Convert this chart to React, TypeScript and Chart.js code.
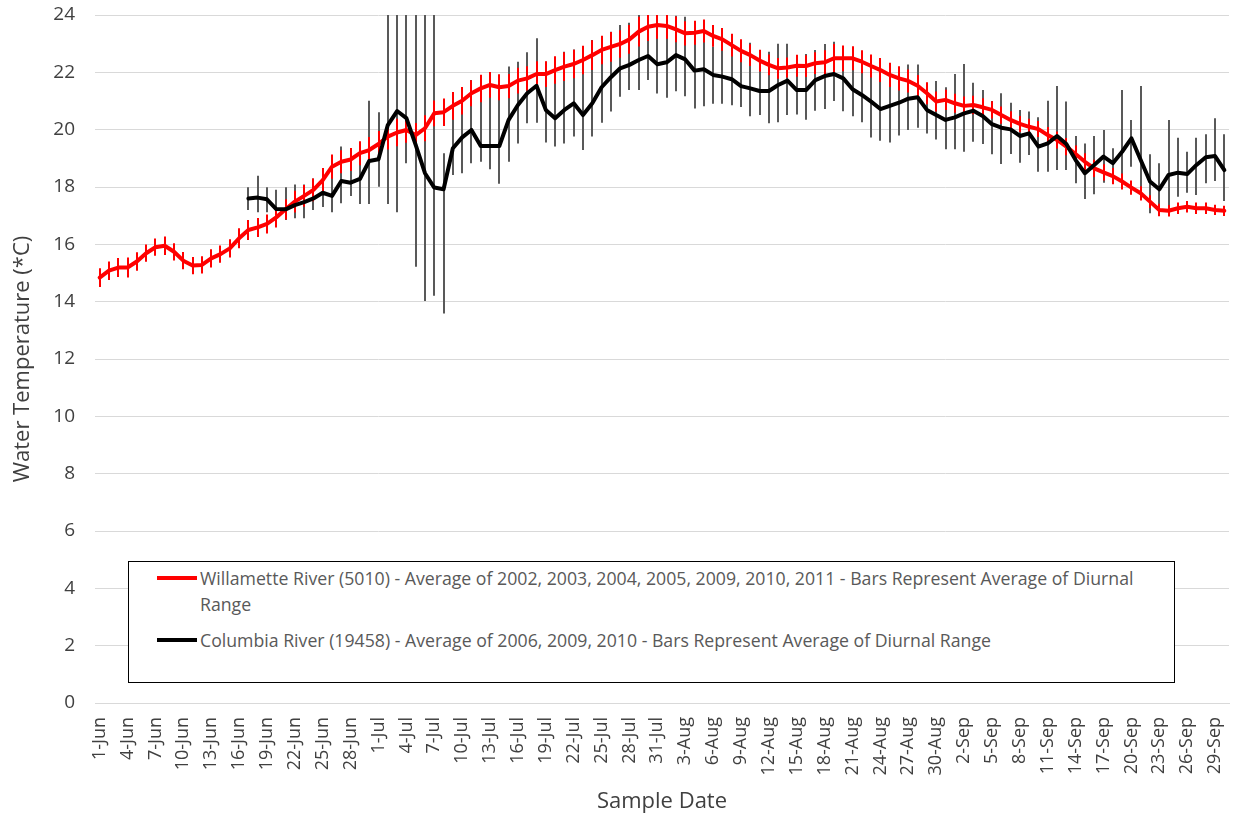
import React, { useEffect, useRef } from "react";
import { Chart, registerables } from "chart.js";

Chart.register(...registerables);

// ---------- categories ----------
const MONTHS: [string, number][] = [
  ["Jun", 30],
  ["Jul", 31],
  ["Aug", 31],
  ["Sep", 30],
];
const dateLabels: string[] = [];
for (const [m, n] of MONTHS) for (let d = 1; d <= n; d++) dateLabels.push(`${d}-${m}`);

// ---------- Willamette River (red) ----------
const willametteAvg: number[] = [
  14.84, 15.08, 15.19, 15.19, 15.40, 15.69, 15.90, 15.95, 15.74, 15.43,
  15.26, 15.28, 15.51, 15.66, 15.86, 16.21, 16.50, 16.59, 16.71, 16.94,
  17.22, 17.49, 17.69, 17.90, 18.24, 18.71, 18.88, 18.96, 19.18, 19.29,
  19.50, 19.76, 19.90, 19.99, 19.81, 20.05, 20.57, 20.61, 20.83, 21.01,
  21.27, 21.44, 21.56, 21.48, 21.52, 21.71, 21.79, 21.94, 21.94, 22.08,
  22.20, 22.29, 22.43, 22.60, 22.78, 22.89, 22.99, 23.15, 23.42, 23.59,
  23.65, 23.62, 23.50, 23.36, 23.38, 23.44, 23.27, 23.15, 22.95, 22.75,
  22.60, 22.41, 22.26, 22.14, 22.17, 22.23, 22.22, 22.32, 22.35, 22.49,
  22.49, 22.49, 22.37, 22.22, 22.08, 21.91, 21.79, 21.70, 21.53, 21.27,
  20.98, 21.04, 20.92, 20.83, 20.86, 20.78, 20.69, 20.51, 20.34, 20.20,
  20.10, 20.02, 19.81, 19.64, 19.41, 19.15, 18.88, 18.65, 18.51, 18.38,
  18.19, 17.98, 17.78, 17.49, 17.20, 17.17, 17.26, 17.31, 17.26, 17.26,
  17.20, 17.17,
];
// half of the average diurnal range
const willametteHalfRange: number[] = [
  0.33, 0.32, 0.33, 0.35, 0.32, 0.30, 0.30, 0.32, 0.30, 0.30,
  0.30, 0.30, 0.32, 0.30, 0.32, 0.35, 0.35, 0.33, 0.33, 0.35,
  0.35, 0.38, 0.38, 0.40, 0.42, 0.42, 0.40, 0.40, 0.42, 0.45,
  0.45, 0.45, 0.48, 0.45, 0.42, 0.45, 0.45, 0.48, 0.48, 0.48,
  0.45, 0.48, 0.45, 0.45, 0.42, 0.45, 0.42, 0.45, 0.45, 0.48,
  0.50, 0.50, 0.50, 0.52, 0.50, 0.52, 0.48, 0.50, 0.52, 0.50,
  0.48, 0.45, 0.45, 0.42, 0.42, 0.40, 0.38, 0.40, 0.40, 0.40,
  0.38, 0.38, 0.36, 0.36, 0.35, 0.38, 0.38, 0.38, 0.42, 0.50,
  0.45, 0.42, 0.40, 0.40, 0.42, 0.42, 0.42, 0.40, 0.38, 0.38,
  0.35, 0.35, 0.33, 0.33, 0.32, 0.32, 0.30, 0.30, 0.30, 0.28,
  0.28, 0.28, 0.28, 0.30, 0.30, 0.30, 0.30, 0.30, 0.28, 0.28,
  0.28, 0.25, 0.25, 0.22, 0.22, 0.20, 0.20, 0.20, 0.20, 0.20,
  0.18, 0.18,
];

// ---------- Columbia River (black) ----------
const N = null;
const columbiaAvg: (number | null)[] = [
  N, N, N, N, N, N, N, N, N, N,
  N, N, N, N, N, N, 17.60, 17.63, 17.57, 17.23,
  17.22, 17.37, 17.47, 17.60, 17.80, 17.69, 18.21, 18.15, 18.28, 18.91,
  18.97, 20.16, 20.65, 20.40, 19.47, 18.48, 17.98, 17.92, 19.35, 19.73,
  19.99, 19.43, 19.43, 19.43, 20.34, 20.86, 21.27, 21.53, 20.69, 20.40,
  20.69, 20.92, 20.51, 20.92, 21.48, 21.83, 22.14, 22.26, 22.43, 22.57,
  22.28, 22.35, 22.60, 22.45, 22.06, 22.11, 21.91, 21.85, 21.76, 21.52,
  21.44, 21.35, 21.35, 21.56, 21.71, 21.38, 21.38, 21.73, 21.87, 21.94,
  21.79, 21.41, 21.21, 20.98, 20.72, 20.83, 20.94, 21.08, 21.13, 20.69,
  20.51, 20.34, 20.43, 20.57, 20.66, 20.48, 20.19, 20.07, 20.01, 19.78,
  19.87, 19.41, 19.52, 19.78, 19.50, 18.94, 18.48, 18.77, 19.06, 18.83,
  19.23, 19.70, 18.94, 18.19, 17.92, 18.42, 18.50, 18.45, 18.77, 19.04,
  19.08, 18.59,
];
const columbiaLow: (number | null)[] = [
  N, N, N, N, N, N, N, N, N, N,
  N, N, N, N, N, N, 17.20, 17.12, 17.12, 16.90,
  16.85, 16.91, 16.91, 17.20, 17.30, 17.12, 17.43, 17.69, 17.41, 17.41,
  18.01, 17.41, 17.12, 18.83, 15.22, 14.02, 14.21, 13.59, 18.42, 18.48,
  18.83, 18.88, 18.62, 18.11, 18.88, 19.52, 20.22, 20.24, 19.55, 19.41,
  19.52, 19.76, 19.29, 19.76, 20.24, 20.63, 21.15, 21.38, 21.38, 21.73,
  21.26, 21.11, 21.34, 21.17, 20.74, 20.82, 20.90, 20.90, 20.85, 20.79,
  20.47, 20.51, 20.22, 20.26, 20.51, 20.53, 20.35, 20.66, 20.72, 21.00,
  20.64, 20.47, 20.26, 19.73, 19.61, 19.55, 19.80, 19.99, 20.07, 19.87,
  19.66, 19.32, 19.32, 19.23, 19.58, 19.50, 19.14, 18.80, 19.15, 18.85,
  19.12, 18.53, 18.53, 18.59, 18.59, 18.13, 17.58, 17.75, 18.15, 18.24,
  18.07, 18.71, 17.66, 17.08, 16.99, 17.02, 17.66, 17.80, 17.72, 18.13,
  18.21, 17.51,
];
const columbiaHigh: (number | null)[] = [
  N, N, N, N, N, N, N, N, N, N,
  N, N, N, N, N, N, 17.99, 18.39, 17.99, 17.90,
  17.99, 18.09, 18.09, 18.30, 18.40, 19.12, 19.41, 19.20, 19.50, 21.01,
  20.61, 25.00, 25.00, 25.00, 25.00, 25.00, 25.00, 19.18, 21.10, 21.20,
  21.73, 21.87, 21.94, 21.83, 22.20, 22.37, 22.70, 23.19, 22.37, 22.41,
  22.72, 22.80, 22.92, 23.13, 23.24, 23.42, 23.65, 23.73, 25.00, 25.00,
  25.00, 25.00, 23.97, 23.94, 23.77, 23.73, 22.90, 22.85, 23.20, 23.07,
  23.03, 22.78, 22.72, 23.00, 23.00, 22.60, 22.64, 22.78, 22.99, 23.07,
  22.80, 22.69, 22.43, 22.20, 21.97, 22.22, 22.10, 22.27, 22.27, 21.56,
  21.70, 21.48, 21.94, 22.29, 21.64, 21.38, 21.00, 21.27, 20.94, 20.69,
  20.63, 20.43, 21.01, 21.52, 20.98, 19.78, 19.52, 19.78, 19.99, 19.35,
  21.38, 20.34, 21.52, 19.14, 18.83, 20.34, 19.72, 19.23, 19.72, 19.84,
  20.40, 19.84,
];

// ---------- axis / text ----------
const yTicks = { min: 0, max: 24, step: 2 };
const yTitle = "Water Temperature (*C)";
const xTitle = "Sample Date";
const legendWillamette =
  "Willamette River (5010) - Average of 2002, 2003, 2004, 2005, 2009, 2010, 2011 - Bars Represent Average of Diurnal Range";
const legendColumbia =
  "Columbia River (19458) - Average of 2006, 2009, 2010 - Bars Represent Average of Diurnal Range";

const FONT = "'Open Sans', 'Noto Sans', sans-serif";
const TEXT_COLOR = "#595959";
const TICK_COLOR = "#404040";

const errorBarPlugin = {
  id: "errorBars",
  beforeDatasetsDraw(chart: any) {
    const { ctx, chartArea, scales } = chart;
    const xs = scales.x;
    const ys = scales.y;
    ctx.save();
    ctx.beginPath();
    ctx.rect(chartArea.left, chartArea.top, chartArea.right - chartArea.left, chartArea.bottom - chartArea.top);
    ctx.clip();
    ctx.lineCap = "butt";
    // Columbia bars
    ctx.strokeStyle = "#595959";
    ctx.lineWidth = 2;
    for (let i = 0; i < dateLabels.length; i++) {
      const lo = columbiaLow[i];
      const hi = columbiaHigh[i];
      if (lo == null || hi == null) continue;
      const px = Math.round(xs.getPixelForValue(i));
      ctx.beginPath();
      ctx.moveTo(px, ys.getPixelForValue(hi));
      ctx.lineTo(px, ys.getPixelForValue(lo));
      ctx.stroke();
    }
    // Willamette bars
    ctx.strokeStyle = "#ff0000";
    ctx.lineWidth = 2;
    for (let i = 0; i < dateLabels.length; i++) {
      const v = willametteAvg[i];
      const h = willametteHalfRange[i];
      const px = Math.round(xs.getPixelForValue(i));
      ctx.beginPath();
      ctx.moveTo(px, ys.getPixelForValue(v + h));
      ctx.lineTo(px, ys.getPixelForValue(v - h));
      ctx.stroke();
    }
    ctx.restore();
  },
};

export default function App() {
  const canvasRef = useRef<HTMLCanvasElement | null>(null);

  useEffect(() => {
    document.body.style.margin = "0";
    const canvas = canvasRef.current;
    if (!canvas) return;
    Chart.defaults.font.family = FONT;
    const chart = new Chart(canvas, {
      type: "line",
      data: {
        labels: dateLabels,
        datasets: [
          {
            label: legendWillamette,
            data: willametteAvg,
            borderColor: "#ff0000",
            backgroundColor: "#ff0000",
            borderWidth: 4,
            pointRadius: 0,
            tension: 0,
            borderJoinStyle: "round",
            borderCapStyle: "round",
            order: 2,
          },
          {
            label: legendColumbia,
            data: columbiaAvg,
            borderColor: "#000000",
            backgroundColor: "#000000",
            borderWidth: 4,
            pointRadius: 0,
            tension: 0,
            spanGaps: false,
            borderJoinStyle: "round",
            borderCapStyle: "round",
            order: 1,
          },
        ],
      },
      options: {
        responsive: false,
        animation: false,
        layout: { padding: { top: 15, right: 9, bottom: 0, left: 0 } },
        plugins: {
          legend: { display: false },
          tooltip: { enabled: false },
        },
        scales: {
          x: {
            type: "category",
            offset: true,
            grid: { display: false, drawTicks: false },
            border: { display: true, color: "#d9d9d9", width: 1 },
            ticks: {
              autoSkip: false,
              minRotation: 90,
              maxRotation: 90,
              padding: 14,
              color: TICK_COLOR,
              font: { size: 18, family: FONT },
              callback: (_v: any, i: number) => (i % 3 === 0 ? dateLabels[i] : ""),
            },
            title: {
              display: true,
              text: xTitle,
              color: TICK_COLOR,
              font: { size: 22, family: FONT },
              padding: { top: 0, bottom: 6 },
            },
            afterFit: (scale: any) => {
              scale.height = 118;
              scale.paddingLeft = 0;
              scale.paddingRight = 0;
            },
          },
          y: {
            min: yTicks.min,
            max: yTicks.max,
            grid: { color: "#d9d9d9", lineWidth: 1, drawTicks: false },
            border: { display: false },
            ticks: {
              stepSize: yTicks.step,
              padding: 20,
              color: TICK_COLOR,
              font: { size: 19, family: FONT },
            },
            title: {
              display: true,
              text: yTitle,
              color: TICK_COLOR,
              font: { size: 22, family: FONT },
              padding: { top: 10, bottom: 0 },
            },
            afterFit: (scale: any) => {
              scale.width = 95;
              scale.paddingTop = 0;
              scale.paddingBottom = 0;
            },
          },
        },
      },
      plugins: [errorBarPlugin],
    });
    return () => chart.destroy();
  }, []);

  const legendText: React.CSSProperties = {
    fontFamily: FONT,
    fontSize: 17.7,
    color: TEXT_COLOR,
    lineHeight: "26px",
  };

  return (
    <div style={{ position: "relative", width: 1238, height: 821, background: "#fff" }}>
      <canvas ref={canvasRef} width={1238} height={821} style={{ display: "block" }} />
      <div
        style={{
          position: "absolute",
          left: 128,
          top: 561,
          width: 1047,
          height: 122,
          boxSizing: "border-box",
          border: "1.5px solid #000",
          background: "#fff",
        }}
      >
        <div style={{ position: "absolute", left: 28, top: 14, width: 40, height: 4, background: "#ff0000" }} />
        <div style={{ ...legendText, position: "absolute", left: 71, top: 3, width: 965 }}>{legendWillamette}</div>
        <div style={{ position: "absolute", left: 28, top: 76, width: 40, height: 4, background: "#000000" }} />
        <div style={{ ...legendText, position: "absolute", left: 71, top: 65, width: 965 }}>{legendColumbia}</div>
      </div>
    </div>
  );
}
